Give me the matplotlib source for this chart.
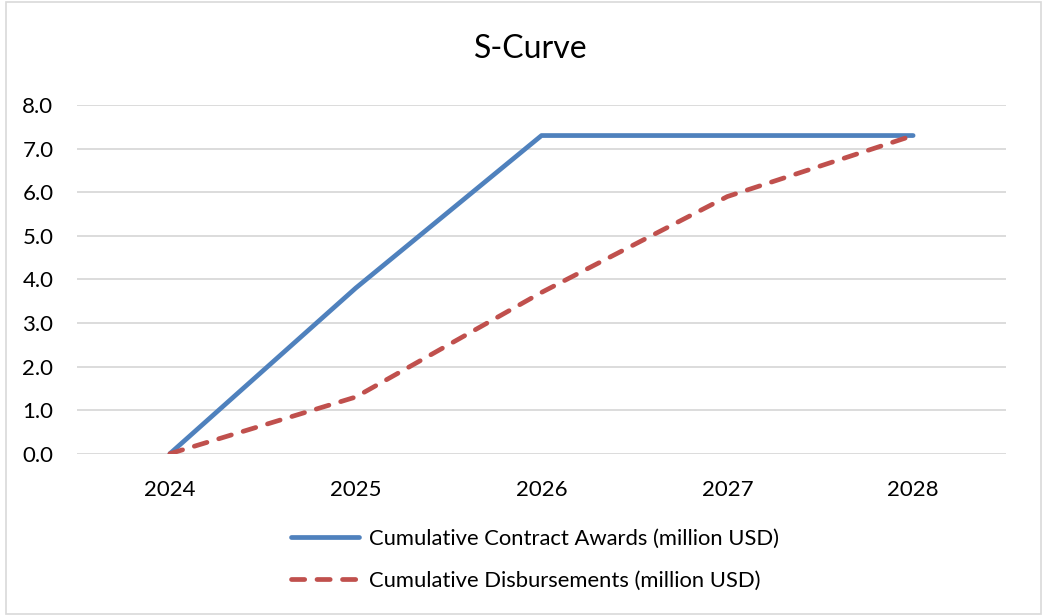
import matplotlib.pyplot as plt
from matplotlib.patches import Rectangle

years = ["2024", "2025", "2026", "2027", "2028"]
contract_awards = [0.0, 3.8, 7.3, 7.3, 7.3]
disbursements = [0.0, 1.3, 3.7, 5.9, 7.3]
y_ticks = [0, 1, 2, 3, 4, 5, 6, 7, 8]

plt.rcParams["font.family"] = ["Lato", "DejaVu Sans"]

fig = plt.figure(figsize=(10.45, 6.16), dpi=100)
fig.patches.append(Rectangle((0.006, 0.003), 0.99, 0.994, transform=fig.transFigure,
                             fill=False, edgecolor="#d9d9d9", linewidth=1.2))
ax = fig.add_axes([0.0737, 0.2635, 0.889, 0.566])

x = range(len(years))
ax.plot(x, contract_awards, color="#4f81bd", linewidth=3.4, solid_capstyle="round",
        solid_joinstyle="round", label="Cumulative Contract Awards (million USD)")
ax.plot(x, disbursements, color="#c0504d", linewidth=3.4, linestyle=(0, (2.8, 2.6)),
        dash_capstyle="round", label="Cumulative Disbursements (million USD)")

ax.set_xlim(-0.5, len(years) - 0.5)
ax.set_ylim(0, 8)
ax.set_xticks(list(x))
ax.set_xticklabels(years)
ax.set_yticks(y_ticks)
ax.set_yticklabels([f"{v:.1f}" for v in y_ticks])
ax.grid(axis="y", color="#d9d9d9", linewidth=1.3)
ax.set_axisbelow(True)
for s in ax.spines.values():
    s.set_visible(False)
ax.tick_params(length=0, labelsize=16, colors="black")
ax.tick_params(axis="y", pad=17)
ax.tick_params(axis="x", pad=19)

fig.suptitle("S-Curve", x=0.508, y=0.945, fontsize=23)
fig.legend(loc="center", bbox_to_anchor=(0.512, 0.091), frameon=False, fontsize=15.8,
           handlelength=3.1, labelspacing=1.0, handletextpad=0.45)

fig.savefig("out.png", dpi=100)
